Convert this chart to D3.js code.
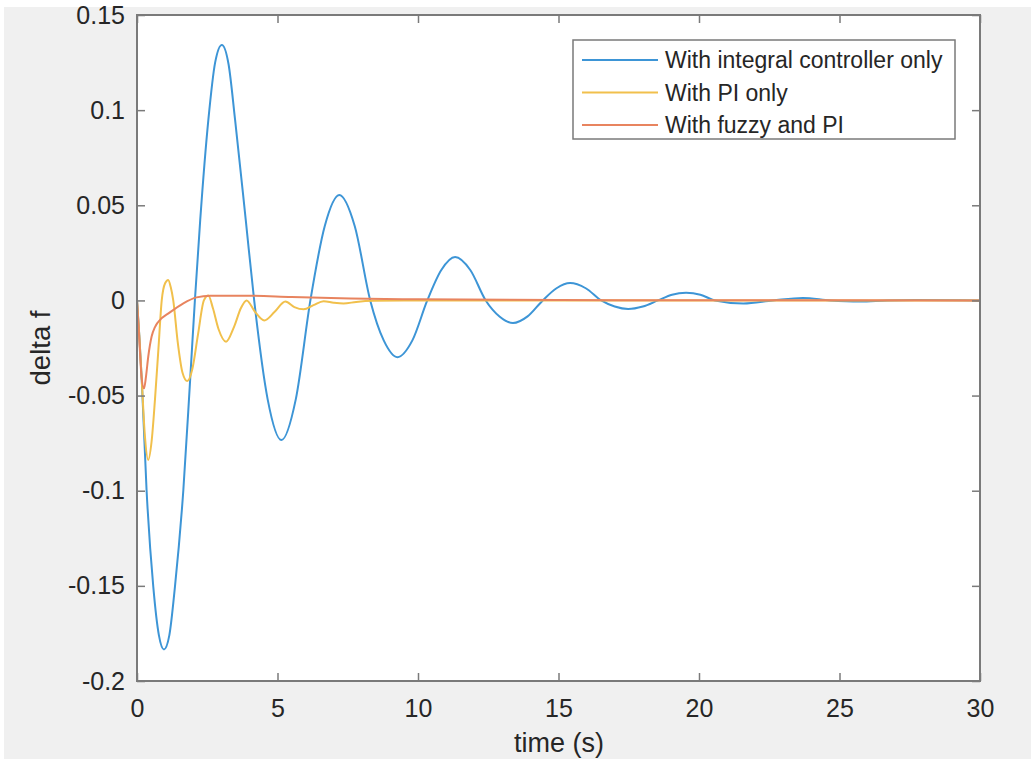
<!DOCTYPE html>
<html><head><meta charset="utf-8">
<script src="https://cdn.jsdelivr.net/npm/d3@7"></script>
<style>html,body{margin:0;padding:0;background:#fff;overflow:hidden}</style>
</head><body><svg id="c" width="1031" height="759"></svg>
<script>
// ---- data ----
const seriesNames = ["With integral controller only", "With PI only", "With fuzzy and PI"];
const xTicks = [0, 5, 10, 15, 20, 25, 30];
const yTicks = [-0.2, -0.15, -0.1, -0.05, 0, 0.05, 0.1, 0.15];
const yTickLabels = ["-0.2", "-0.15", "-0.1", "-0.05", "0", "0.05", "0.1", "0.15"];

const integralT = [0,0.08,0.17,0.34,0.58,0.78,0.96,1.15,1.35,1.65,1.89,2.06,2.25,2.54,2.78,3.02,3.26,3.49,3.87,4.17,4.65,5.14,5.65,6.17,6.68,7.2,7.75,8.3,8.78,9.27,9.8,10.33,10.83,11.32,11.86,12.41,12.9,13.38,13.9,14.44,14.93,15.41,15.97,16.52,17.0,17.48,18.0,18.54,19.04,19.54,20.05,20.57,21.58,22.63,23.7,24.66,25.73,26.7,27.7,30];
const integralV = [0,-0.018,-0.042,-0.0995,-0.1505,-0.176,-0.1834,-0.176,-0.1505,-0.0995,-0.042,0,0.0423,0.095,0.125,0.1343,0.124,0.095,0.0423,0,-0.052,-0.0734,-0.052,0,0.039,0.0554,0.039,0,-0.021,-0.0298,-0.021,0,0.016,0.0228,0.016,0,-0.0084,-0.0119,-0.0084,0,0.0064,0.0091,0.0064,0,-0.0032,-0.0045,-0.0032,0,0.003,0.004,0.003,0,-0.0016,0,0.0013,0,-0.0006,0,0.0002,0];

const piT = [0,0.08,0.17,0.28,0.4,0.52,0.64,0.76,0.88,1.0,1.11,1.2,1.29,1.45,1.62,1.79,1.97,2.17,2.38,2.54,2.7,2.9,3.17,3.45,3.7,3.9,4.2,4.53,4.9,5.28,5.6,5.93,6.28,6.64,7.0,7.35,7.8,8.4,9.5,30];
const piV = [0,-0.018,-0.042,-0.071,-0.0838,-0.074,-0.052,-0.026,0,0.009,0.0107,0.007,0,-0.022,-0.038,-0.0424,-0.036,-0.018,0,0.0026,-0.004,-0.015,-0.0217,-0.014,-0.004,0,-0.006,-0.0105,-0.006,-0.0006,-0.0035,-0.0047,-0.0025,-0.0004,-0.0012,-0.0016,-0.0008,-0.0002,0,0];

const fuzzyT = [0,0.08,0.16,0.25,0.32,0.4,0.52,0.64,0.76,1.17,1.65,2.12,2.6,3.9,5.5,7.6,10,15,20,30];
const fuzzyV = [0,-0.02,-0.04,-0.0462,-0.04,-0.0296,-0.019,-0.014,-0.0112,-0.0063,-0.0015,0.0016,0.0025,0.0025,0.0018,0.001,0.0006,0.0002,0.0001,0];

const colors = ["#3d95d6", "#f1c04c", "#e8845f"];

// ---- layout ----
const svg = d3.select("#c");
const L = 137, R = 980, T = 15, B = 681;
svg.append("rect").attr("x", 4).attr("y", 7).attr("width", 1027).attr("height", 752).attr("fill", "#f0f0f0");
svg.append("rect").attr("x", L).attr("y", T).attr("width", R - L).attr("height", B - T).attr("fill", "#fff");

const x = d3.scaleLinear().domain([0, 30]).range([L, R]);
const y = d3.scaleLinear().domain([-0.2, 0.15]).range([B, T]);

const font = "'Liberation Sans', Arial, Helvetica, sans-serif";
const axisCol = "#7a7a7a";
const textCol = "#262626";

// lines
const series = [[integralT, integralV], [piT, piV], [fuzzyT, fuzzyV]];
const line = d3.line().x(d => x(d[0])).y(d => y(d[1])).curve(d3.curveMonotoneX);
const g = svg.append("g");
series.forEach((s, i) => {
  const pts = s[0].map((t, k) => [t, s[1][k]]);
  g.append("path").attr("d", line(pts)).attr("fill", "none")
    .attr("stroke", colors[i]).attr("stroke-width", 2).attr("stroke-linejoin", "round");
});

// axes (ticks inside, box)
function styleAxis(sel) {
  sel.select(".domain").remove();
  sel.selectAll(".tick line").attr("stroke", axisCol).attr("stroke-width", 1.5);
  sel.selectAll(".tick text").attr("fill", textCol).style("font-family", font).style("font-size", "25px");
}
const xb = svg.append("g").attr("transform", `translate(0,${B})`)
  .call(d3.axisBottom(x).tickValues(xTicks).tickSize(-8).tickPadding(18).tickFormat(d3.format("d")));
styleAxis(xb);
const xt = svg.append("g").attr("transform", `translate(0,${T})`)
  .call(d3.axisTop(x).tickValues(xTicks).tickSize(-8).tickFormat(""));
styleAxis(xt);
const yl = svg.append("g").attr("transform", `translate(${L},0)`)
  .call(d3.axisLeft(y).tickValues(yTicks).tickSize(-8).tickPadding(12).tickFormat((d, i) => yTickLabels[i]));
styleAxis(yl);
const yr = svg.append("g").attr("transform", `translate(${R},0)`)
  .call(d3.axisRight(y).tickValues(yTicks).tickSize(-8).tickFormat(""));
styleAxis(yr);
svg.append("rect").attr("x", L).attr("y", T).attr("width", R - L).attr("height", B - T)
  .attr("fill", "none").attr("stroke", axisCol).attr("stroke-width", 2);

// axis labels
svg.append("text").attr("x", 559).attr("y", 752).attr("text-anchor", "middle")
  .attr("fill", textCol).style("font-family", font).style("font-size", "27px").text("time (s)");
svg.append("text").attr("transform", "translate(50,348) rotate(-90)").attr("text-anchor", "middle")
  .attr("fill", textCol).style("font-family", font).style("font-size", "27.5px").text("delta f");

// legend
const lg = svg.append("g");
lg.append("rect").attr("x", 573).attr("y", 40).attr("width", 382).attr("height", 99)
  .attr("fill", "#fff").attr("stroke", axisCol).attr("stroke-width", 1.5);
seriesNames.forEach((n, i) => {
  const cy = 60 + i * 32.5;
  lg.append("line").attr("x1", 582).attr("x2", 658).attr("y1", cy).attr("y2", cy)
    .attr("stroke", colors[i]).attr("stroke-width", 2);
  lg.append("text").attr("x", 665).attr("y", cy + 8).attr("fill", textCol)
    .style("font-family", font).style("font-size", "23px").text(n);
});
</script></body></html>
